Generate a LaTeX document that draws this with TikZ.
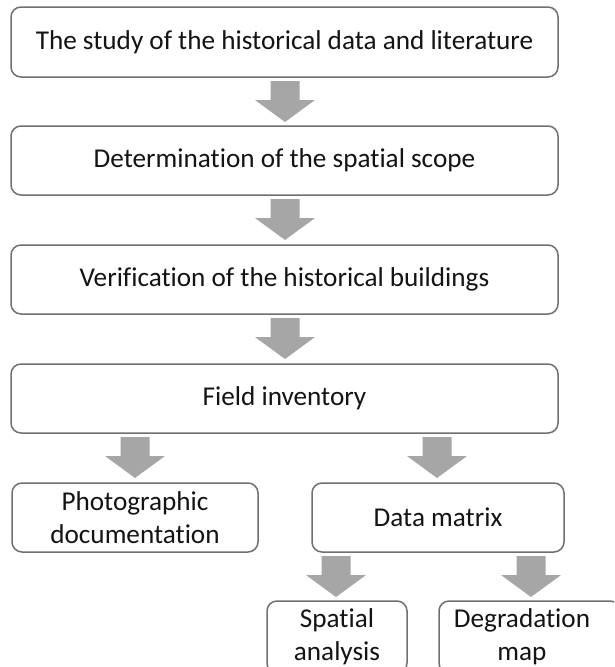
\documentclass[tikz,border=0pt]{standalone}
\usepackage{fontspec}
\setmainfont[RawFeature=-liga]{Carlito}
\begin{document}
\begin{tikzpicture}[x=1pt,y=-1pt,
  box/.style={draw=boxgray, line width=1.5pt, rounded corners=10pt, fill=white,
    inner sep=0pt, align=center, font=\fontsize{27.2}{33}\selectfont, text=black!92},
  blockarrow/.pic={\fill[arrowgray] (-14.5,0) -- (14.5,0) -- (14.5,19) -- (30,19) -- (0,41) -- (-30,19) -- (-14.5,19) -- cycle;}
]
\definecolor{boxgray}{HTML}{707070}
\definecolor{arrowgray}{HTML}{A6A6A6}
\useasboundingbox (0,0) rectangle (614,667);
\clip (0,0) rectangle (614,667);
\fill[white] (0,0) rectangle (614,667);

\node[box, minimum width=547, minimum height=70] (b1) at (284.5,42) {The study of the historical data and literature};
\node[box, minimum width=547, minimum height=69] (b2) at (284.5,160.5) {Determination of the spatial scope};
\node[box, minimum width=547, minimum height=69] (b3) at (284.5,279.5) {Verification of the historical buildings};
\node[box, minimum width=547, minimum height=69] (b4) at (284.5,398.5) {Field inventory};
\node[box, minimum width=246, minimum height=69] (photo) at (135,517.5) {Photographic\\documentation};
\node[box, minimum width=252, minimum height=69] (data) at (438,517.5) {Data matrix};
\node[box, minimum width=140, minimum height=72] (spatial) at (337,637) {Spatial\\analysis};
\node[box, minimum width=181, minimum height=72] (degr) at (529.5,637) {\hspace*{-15pt}Degradation\\\hspace*{-15pt}map};

\coordinate (a1) at (285,81);
\coordinate (a2) at (285,199);
\coordinate (a3) at (285,318);
\coordinate (a4) at (135,437);
\coordinate (a5) at (437,437);
\coordinate (a6) at (336,556);
\coordinate (a7) at (531,556);
\foreach \c in {a1,a2,a3,a4,a5,a6,a7} \pic at (\c) {blockarrow};
\end{tikzpicture}
\end{document}
